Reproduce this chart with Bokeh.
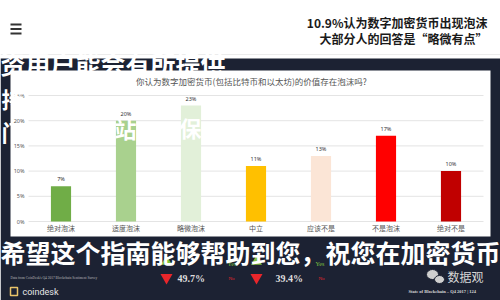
from bokeh.plotting import figure
from bokeh.models import Range1d
from bokeh.core.properties import value
from bokeh.embed import file_html
from bokeh.resources import INLINE

# ---- data ----
categories = ["绝对泡沫", "适度泡沫", "略微泡沫", "中立", "应该不是", "不是泡沫", "绝对不是"]
percent = [7, 20, 23, 11, 13, 17, 10]
bar_colors = ["#70AD47", "#A9D18E", "#E2F0D9", "#FFC000", "#FBE5D6", "#FF0000", "#C00000"]
y_ticks = [0, 5, 10, 15, 20, 25]
y_tick_labels = ["0%", "5%", "10%", "15%", "20%", "25%"]
chart_title = "你认为数字加密货币(包括比特币和以太坊)的价值存在泡沫吗?"
headline = ["10.9%认为数字加密货币出现泡沫", "大部分人的回答是“略微有点”"]

# ---- layout (pixels) ----
W, H = 500, 300
plot_left, slot = 28, 65          # category slot width in px
zero_y, px_per_pct = 221, 5.04    # y (from top) of 0% and pixels per percent
CJK = value("Noto Sans CJK SC")
LAT = value("Noto Sans")

first_center = plot_left + slot / 2
cat_start = (0 - first_center) / slot
cat_end = (W - first_center) / slot
pct_start = -(H - zero_y) / px_per_pct
pct_end = zero_y / px_per_pct

p = figure(width=W, height=H, x_range=Range1d(0, W), y_range=Range1d(H, 0),
           output_backend="svg", toolbar_location=None, min_border=0,
           x_axis_type=None, y_axis_type=None, background_fill_color="white",
           border_fill_color="white", outline_line_color=None)
p.grid.visible = False
p.extra_x_ranges = {"cat": Range1d(cat_start, cat_end)}
p.extra_y_ranges = {"pct": Range1d(pct_start, pct_end)}

# page decoration
p.segment(x0=[0], y0=[54], x1=[W], y1=[54], line_color="#ececec", line_width=1)
p.quad(left=[0], right=[W], top=[58], bottom=[H], fill_color="#1c2233", line_color=None)
p.quad(left=[10], right=[490], top=[70], bottom=[236], fill_color="white", line_color=None)
# hamburger icon
p.segment(x0=[10, 10, 10], y0=[24, 28.5, 33], x1=[21, 21, 21], y1=[24, 28.5, 33],
          line_color="#333333", line_width=2)

# headline
p.text(x=[487, 487], y=[22, 38], text=headline, text_align="right", text_baseline="middle",
       text_font=CJK, text_font_size="12px", text_font_style="bold", text_color="#1a1a1a")

# chart title
p.text(x=[251], y=[80], text=[chart_title], text_align="center", text_baseline="middle",
       text_font=CJK, text_font_size="8.5px", text_color="#555555")

# gridlines
idx = list(range(len(categories)))
p.segment(x0=[plot_left] * len(y_ticks), y0=y_ticks, x1=[plot_left + slot * len(categories)] * len(y_ticks),
          y1=y_ticks, y_range_name="pct", line_color="#e4e4e4", line_width=1)
p.text(x=[24] * len(y_ticks), y=y_ticks, text=y_tick_labels, y_range_name="pct",
       text_align="right", text_baseline="middle", text_font=LAT, text_font_size="5.5px",
       text_color="#555555")

# bars
p.vbar(x=idx, top=percent, bottom=0, width=0.31, fill_color=bar_colors, line_color=None,
       x_range_name="cat", y_range_name="pct")
p.text(x=idx, y=[v + 0.6 for v in percent], text=[f"{v}%" for v in percent],
       x_range_name="cat", y_range_name="pct", text_align="center", text_baseline="bottom",
       text_font=LAT, text_font_size="5.5px", text_color="#333333")
p.text(x=idx, y=[-1.2] * len(idx), text=categories, x_range_name="cat", y_range_name="pct",
       text_align="center", text_baseline="middle", text_font=CJK, text_font_size="7px",
       text_color="#555555")

# overlay handwriting-like text (white)
p.text(x=[0], y=[62], text=["资用户能会有所提供"], text_align="left", text_baseline="middle",
       text_font=CJK, text_font_size="25px", text_font_style="bold", text_color="white")
p.text(x=[1, 1, 114, 179], y=[97, 130, 127, 126], text=["持", "门", "站", "保"],
       text_align="left", text_baseline="middle", text_font=CJK, text_font_size="22px",
       text_font_style="bold", text_color="white")

# bottom lower survey fragments
p.scatter(x=[166, 256], y=[261, 261], marker="triangle", size=11, fill_color="#7fc241", line_color=None)
p.scatter(x=[166, 256], y=[277, 277], marker="inverted_triangle", size=12, fill_color="#e8262b", line_color=None)
p.text(x=[177, 275], y=[278, 278], text=["49.7%", "39.4%"], text_baseline="middle",
       text_font=value("Liberation Serif"), text_font_size="10px", text_font_style="bold",
       text_color="#dddddd")
p.text(x=[227, 315], y=[263, 263], text=["Yes", "Yes"], text_baseline="middle",
       text_font=value("Liberation Serif"), text_font_size="6px", text_color="#7fc241")
p.text(x=[228, 318], y=[278, 278], text=["No", "No"], text_baseline="middle",
       text_font=value("Liberation Serif"), text_font_size="5px", text_color="#e8262b")

# big bottom overlay
p.text(x=[250], y=[251], text=["希望这个指南能够帮助到您，祝您在加密货币"], text_align="center",
       text_baseline="middle", text_font=CJK, text_font_size="25px", text_font_style="bold",
       text_color="white")

# footer
p.text(x=[10], y=[277], text=["Data from CoinDesk's Q4 2017 Blockchain Sentiment Survey"],
       text_baseline="middle", text_font=value("Liberation Serif"), text_font_size="3.5px",
       text_color="#bbbbbb")
p.quad(left=[10], right=[17], top=[287], bottom=[295], fill_color=None, line_color="#e8c36a", line_width=1.5)
p.text(x=[22], y=[291], text=["coindesk"], text_baseline="middle", text_font=value("Roboto"),
       text_font_size="9px", text_color="#e6e6e6")
p.text(x=[480], y=[291], text=["State of Blockchain – Q4 2017   |   124"], text_align="right",
       text_baseline="middle", text_font=value("Liberation Serif"), text_font_size="4.5px",
       text_font_style="bold", text_color="#d8d8d8")
p.ellipse(x=[432, 439], y=[274, 279], width=[12, 10], height=[10, 8], fill_color="#cfcfcf",
          line_color="#1c2233", line_width=1)
p.text(x=[447], y=[276], text=["数据观"], text_baseline="middle", text_font=CJK,
       text_font_size="12px", text_color="#d6d6d6")

open("out.html", "w").write(file_html(p, INLINE))
